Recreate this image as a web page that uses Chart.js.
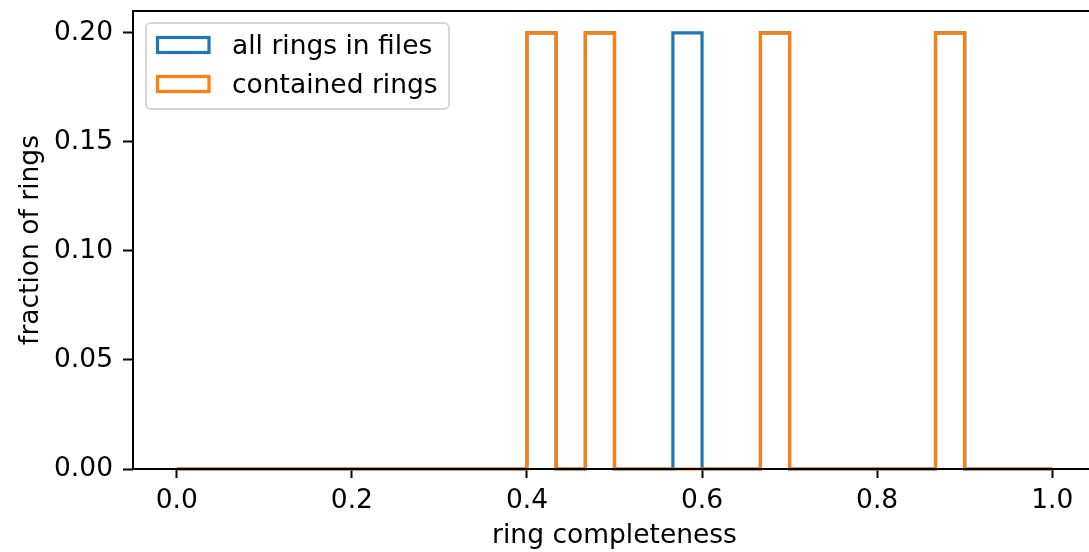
<!DOCTYPE html>
<html>
<head>
<meta charset="utf-8">
<script src="https://cdn.jsdelivr.net/npm/chart.js@4.4.0/dist/chart.umd.min.js"></script>
<style>
  html, body { margin: 0; padding: 0; overflow: hidden; background: #fff; }
  canvas { display: block; }
</style>
</head>
<body>
<canvas id="histChart" width="1097" height="552"></canvas>
<script>
// histogram bins: 30 bins over [0, 1]
const binEdges = [
    0.0000, 0.0333, 0.0667, 0.1000, 0.1333, 0.1667, 0.2000, 0.2333, 0.2667, 0.3000,
    0.3333, 0.3667, 0.4000, 0.4333, 0.4667, 0.5000, 0.5333, 0.5667, 0.6000, 0.6333,
    0.6667, 0.7000, 0.7333, 0.7667, 0.8000, 0.8333, 0.8667, 0.9000, 0.9333, 0.9667,
    1.0000
];
const allRings = [
    0, 0, 0, 0, 0, 0, 0, 0, 0, 0,
    0, 0, 0.2, 0, 0.2, 0, 0, 0.2, 0, 0,
    0.2, 0, 0, 0, 0, 0, 0.2, 0, 0, 0
];
const containedRings = [
    0, 0, 0, 0, 0, 0, 0, 0, 0, 0,
    0, 0, 0.2, 0, 0.2, 0, 0, 0, 0, 0,
    0.2, 0, 0, 0, 0, 0, 0.2, 0, 0, 0
];
const xTicks = [0.0, 0.2, 0.4, 0.6, 0.8, 1.0];
const yTicks = [0.00, 0.05, 0.10, 0.15, 0.20];

const FONT = { family: 'DejaVu Sans', size: 26.5 };
const BLUE = '#1f77b4';
const ORANGE = '#ff7f0e';

// outline of a step histogram (matplotlib histtype='step')
function stepPoints(vals) {
    const pts = [{ x: binEdges[0], y: 0 }];
    vals.forEach((v, i) => {
        pts.push({ x: binEdges[i], y: v });
        pts.push({ x: binEdges[i + 1], y: v });
    });
    pts.push({ x: binEdges[binEdges.length - 1], y: 0 });
    return pts;
}

function noScalePadding(s) {
    s.paddingTop = 0; s.paddingBottom = 0; s.paddingLeft = 0; s.paddingRight = 0;
}

const framePlugin = {
    id: 'frame',
    afterDatasetsDraw(chart) {
        const { ctx, chartArea: a } = chart;
        ctx.save();
        ctx.strokeStyle = '#000';
        ctx.lineWidth = 2;
        ctx.strokeRect(a.left, a.top, a.right - a.left, a.bottom - a.top);
        ctx.restore();
    }
};

const legendPlugin = {
    id: 'boxLegend',
    afterDraw(chart) {
        const ctx = chart.ctx;
        ctx.save();
        const bx = 146, by = 23, bw = 303, bh = 86, r = 5;
        ctx.beginPath();
        ctx.roundRect(bx, by, bw, bh, r);
        ctx.fillStyle = 'rgba(255,255,255,0.8)';
        ctx.fill();
        ctx.strokeStyle = 'rgba(204,204,204,0.8)';
        ctx.lineWidth = 2;
        ctx.stroke();
        ctx.font = '26.5px "DejaVu Sans"';
        ctx.textBaseline = 'alphabetic';
        ctx.textAlign = 'left';
        chart.data.datasets.forEach((ds, i) => {
            const cy = 45 + i * 39;
            ctx.strokeStyle = ds.borderColor;
            ctx.lineWidth = 3.2;
            ctx.strokeRect(157.5, cy - 7.5, 51.5, 15);
            ctx.fillStyle = '#000';
            ctx.fillText(ds.label, 232, cy + 9.3);
        });
        ctx.restore();
    }
};

new Chart(document.getElementById('histChart'), {
    type: 'line',
    data: {
        datasets: [
            {
                label: 'all rings in files',
                data: stepPoints(allRings),
                borderColor: BLUE,
                borderWidth: 3.2,
                pointRadius: 0,
                tension: 0,
                fill: false,
                clip: false,
                order: 1,
            },
            {
                label: 'contained rings',
                data: stepPoints(containedRings),
                borderColor: ORANGE,
                borderWidth: 3.2,
                pointRadius: 0,
                tension: 0,
                fill: false,
                clip: false,
                order: 0,
            }
        ]
    },
    options: {
        responsive: false,
        animation: false,
        layout: { padding: { top: 11, right: 1, left: 0, bottom: 0 } },
        plugins: { legend: { display: false }, tooltip: { enabled: false } },
        scales: {
            x: {
                type: 'linear',
                min: -0.05,
                max: 1.05,
                afterBuildTicks: s => { s.ticks = xTicks.map(v => ({ value: v })); },
                afterFit: s => { s.height = 83; noScalePadding(s); },
                grid: { drawOnChartArea: false, drawTicks: true, tickLength: 9, tickWidth: 2, tickColor: '#000' },
                border: { display: false },
                ticks: { color: '#000', font: FONT, padding: 7, maxRotation: 0, autoSkip: false, callback: v => v.toFixed(1) },
                title: { display: true, text: 'ring completeness', color: '#000', font: FONT, padding: { top: 0, bottom: 0 } }
            },
            y: {
                type: 'linear',
                min: 0,
                max: 0.21,
                afterBuildTicks: s => { s.ticks = yTicks.map(v => ({ value: v })); },
                afterFit: s => { s.width = 133; noScalePadding(s); },
                grid: { drawOnChartArea: false, drawTicks: true, tickLength: 10, tickWidth: 2, tickColor: '#000' },
                border: { display: false },
                ticks: { color: '#000', font: FONT, padding: 10, autoSkip: false, callback: v => v.toFixed(2) },
                title: { display: true, text: 'fraction of rings', color: '#000', font: FONT, padding: { top: 15, bottom: 0 } }
            }
        }
    },
    plugins: [framePlugin, legendPlugin]
});
</script>
</body>
</html>
